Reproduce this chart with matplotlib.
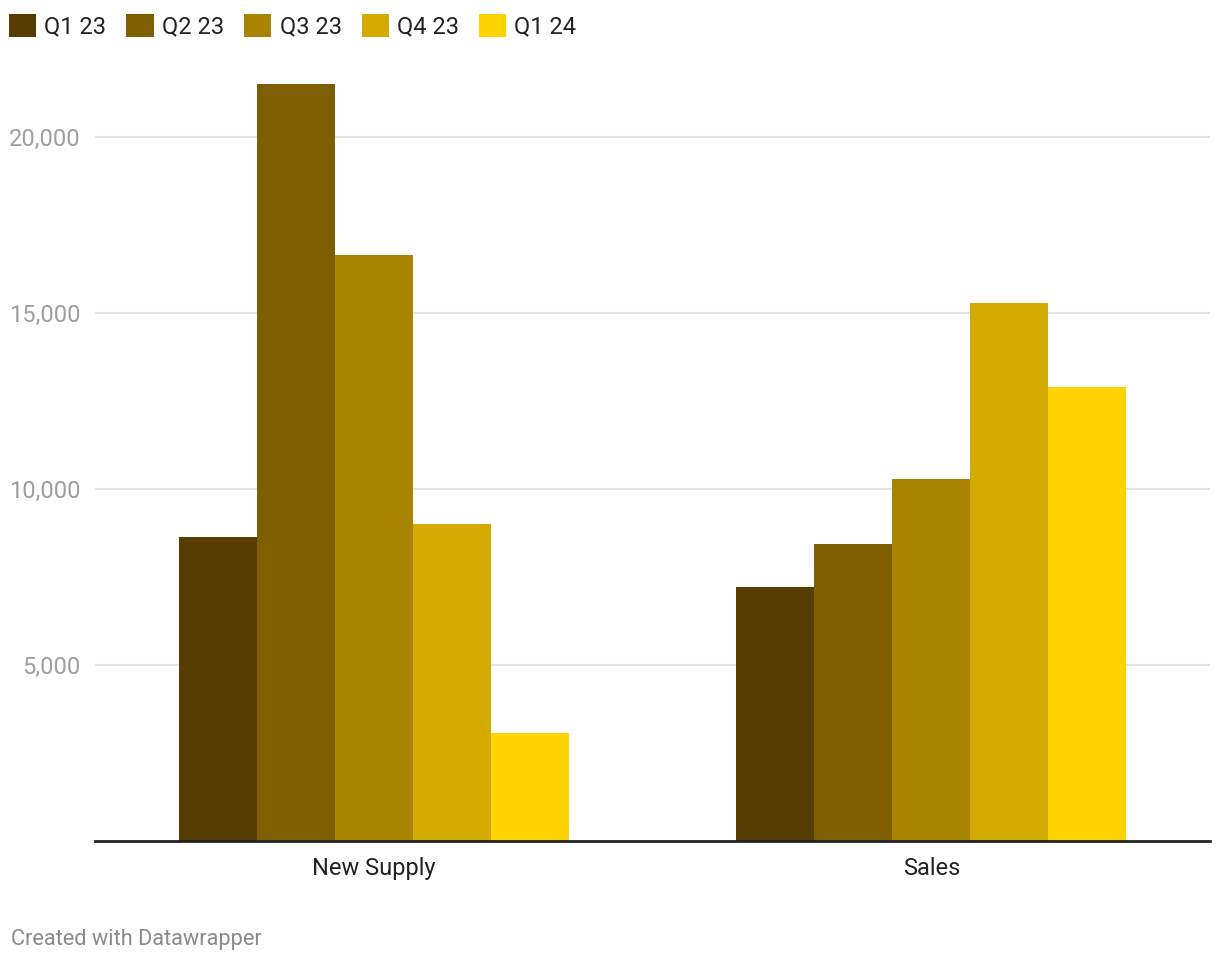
import matplotlib.pyplot as plt
import numpy as np
from matplotlib.patches import Patch

plt.rcParams['font.family'] = ['Roboto', 'DejaVu Sans']

categories = ['New Supply', 'Sales']
quarters = ['Q1 23', 'Q2 23', 'Q3 23', 'Q4 23', 'Q1 24']
colors = ['#553c00', '#7e5e00', '#a98400', '#d2aa00', '#ffd300']

# values per quarter: [New Supply, Sales]
q1_23 = [8640, 7220]
q2_23 = [21500, 8440]
q3_23 = [16650, 10280]
q4_23 = [9010, 15280]
q1_24 = [3070, 12900]
series = [q1_23, q2_23, q3_23, q4_23, q1_24]

yticks = [5000, 10000, 15000, 20000]

fig = plt.figure(figsize=(12.2, 9.64), dpi=100)
ax = fig.add_axes([95 / 1220, 123 / 964, 1115 / 1220, 781 / 964])

x = np.arange(len(categories))
width = 0.14
for i, (vals, c) in enumerate(zip(series, colors)):
    ax.bar(x + (i - 2) * width, vals, width=width, color=c, zorder=3, linewidth=0)

ax.set_xlim(-0.5, 1.5)
ax.set_ylim(0, 22190)
ax.set_yticks(yticks)
ax.set_yticklabels([f'{v:,}' for v in yticks])
ax.set_xticks(x)
ax.set_xticklabels(categories)

ax.grid(axis='y', color='#e3e3e3', linewidth=1.5, zorder=0)
for s in ['top', 'right', 'left']:
    ax.spines[s].set_visible(False)
ax.spines['bottom'].set_color('#222222')
ax.spines['bottom'].set_linewidth(2)
ax.spines['bottom'].set_zorder(4)
ax.tick_params(axis='y', length=0, pad=10.5, labelsize=17, labelcolor='#9e9e9e')
ax.tick_params(axis='x', length=0, pad=11.5, labelsize=17, labelcolor='#222222')

handles = [Patch(facecolor=c, edgecolor='none') for c in colors]
fig.legend(handles, quarters, loc='upper left', bbox_to_anchor=(9 / 1220, 1 - 14 / 964),
           ncol=5, frameon=False, fontsize=17, handlelength=1.15, handleheight=1.15,
           handletextpad=0.35, columnspacing=0.85, borderpad=0, borderaxespad=0,
           labelcolor='#222222')

fig.text(11 / 1220, 1 - 939 / 964, 'Created with Datawrapper', fontsize=15.7,
         color='#8a8a8a', va='center', ha='left')

fig.savefig('out.png', dpi=100)
